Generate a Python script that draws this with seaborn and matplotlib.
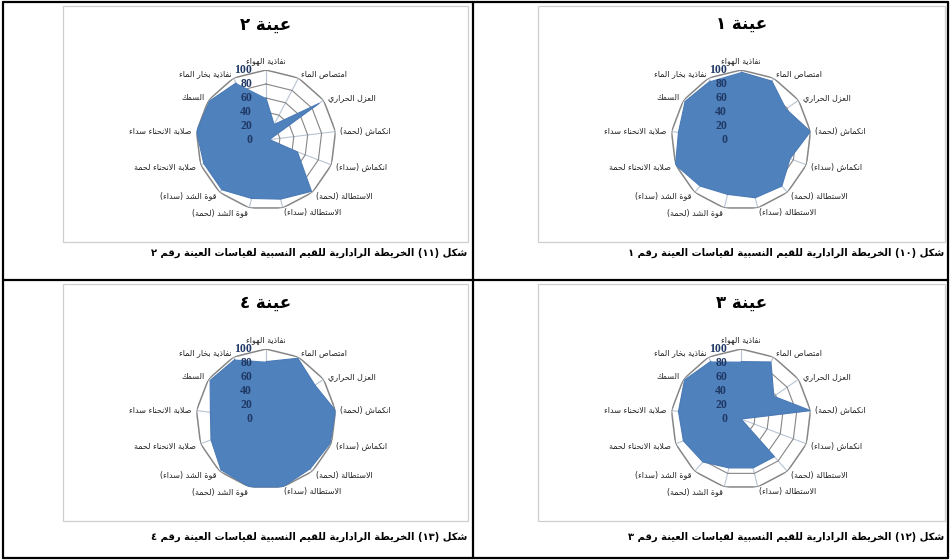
import re
import numpy as np
import matplotlib
matplotlib.use("Agg")
import matplotlib.pyplot as plt
from matplotlib.lines import Line2D
from matplotlib.patches import Rectangle
import seaborn as sns

# ---- data ----
categories = ["نفاذية الهواء", "امتصاص الماء", "العزل الحراري", "انكماش (لحمة)",
              "انكماش (سداء)", "الاستطالة (لحمة)", "الاستطالة (سداء)",
              "قوة الشد (لحمة)", "قوة الشد (سداء)", "صلابة الانحناء لحمة",
              "صلابة الانحناء سداء", "السمك", "نفاذية بخار الماء"]
sample1 = [97, 95, 78, 100, 75, 88, 85, 80, 88, 100, 90, 97, 95]
sample2 = [60, 25, 92, 5, 48, 98, 87, 86, 95, 95, 100, 98, 92]
sample3 = [82, 92, 57, 100, 0, 72, 72, 72, 82, 88, 90, 98, 93]
sample4 = [82, 98, 85, 100, 98, 95, 100, 100, 97, 84, 80, 97, 96]
titles = ["عينة ١", "عينة ٢", "عينة ٣", "عينة ٤"]
captions = ["شكل (١٠) الخريطة الرادارية للقيم النسبية لقياسات العينة رقم ١",
            "شكل (١١) الخريطة الرادارية للقيم النسبية لقياسات العينة رقم ٢",
            "شكل (١٢) الخريطة الرادارية للقيم النسبية لقياسات العينة رقم ٣",
            "شكل (١٣) الخريطة الرادارية للقيم النسبية لقياسات العينة رقم ٤"]
r_ticks = [0, 20, 40, 60, 80, 100]

# ---- minimal arabic shaping (matplotlib has no complex text layout) ----
# letter -> (first presentation form, number of forms)
AR_FORMS = {
    "ء": (0xFE80, 1), "آ": (0xFE81, 2), "أ": (0xFE83, 2), "ؤ": (0xFE85, 2),
    "إ": (0xFE87, 2), "ئ": (0xFE89, 4), "ا": (0xFE8D, 2), "ب": (0xFE8F, 4),
    "ة": (0xFE93, 2), "ت": (0xFE95, 4), "ث": (0xFE99, 4), "ج": (0xFE9D, 4),
    "ح": (0xFEA1, 4), "خ": (0xFEA5, 4), "د": (0xFEA9, 2), "ذ": (0xFEAB, 2),
    "ر": (0xFEAD, 2), "ز": (0xFEAF, 2), "س": (0xFEB1, 4), "ش": (0xFEB5, 4),
    "ص": (0xFEB9, 4), "ض": (0xFEBD, 4), "ط": (0xFEC1, 4), "ظ": (0xFEC5, 4),
    "ع": (0xFEC9, 4), "غ": (0xFECD, 4), "ف": (0xFED1, 4), "ق": (0xFED5, 4),
    "ك": (0xFED9, 4), "ل": (0xFEDD, 4), "م": (0xFEE1, 4), "ن": (0xFEE5, 4),
    "ه": (0xFEE9, 4), "و": (0xFEED, 2), "ى": (0xFEEF, 2), "ي": (0xFEF1, 4),
}


def joins_next(c):
    return c in AR_FORMS and AR_FORMS[c][1] == 4


def joins_prev(c):
    return c in AR_FORMS and AR_FORMS[c][1] >= 2


def ar(text):
    out = []
    i = 0
    n = len(text)
    while i < n:
        c = text[i]
        prev = text[i - 1] if i > 0 else ""
        before = joins_next(prev) and joins_prev(c)
        if c == "ل" and i + 1 < n and text[i + 1] == "ا":
            out.append(chr(0xFEFC if before else 0xFEFB))
            i += 2
            continue
        if c not in AR_FORMS:
            out.append(c)
            i += 1
            continue
        nxt = text[i + 1] if i + 1 < n else ""
        after = joins_next(c) and joins_prev(nxt)
        base = AR_FORMS[c][0]
        if before and after:
            out.append(chr(base + 3))
        elif before:
            out.append(chr(base + 1))
        elif after:
            out.append(chr(base + 2))
        else:
            out.append(chr(base))
        i += 1
    vis = "".join(out)[::-1]
    vis = vis.translate({ord("("): ")", ord(")"): "("})
    vis = re.sub(r"[0-9\u0660-\u0669]+", lambda m: m.group(0)[::-1], vis)
    return vis


sns.set_theme(style="white")
plt.rcParams["font.family"] = ["DejaVu Sans"]

W, H = 952, 560
fig = plt.figure(figsize=(W / 100, H / 100), dpi=100)
fig.patch.set_facecolor("white")


def fx(x):
    return x / W


def fy(y):
    return 1 - y / H


FILL = "#4F81BD"
RING = "#868686"
SPOKE = "#b8c4d4"
TICK_COL = "#1F3864"

# (center x, center y, box left, box right, box top, box bottom, caption y)
panels = [
    (741, 140, 538, 945, 6, 242, 253),
    (266, 140, 63, 468, 6, 242, 253),
    (741, 419, 538, 945, 284, 521, 537),
    (266, 419, 63, 468, 284, 521, 537),
]
samples = [sample1, sample2, sample3, sample4]

n = len(categories)
theta = np.linspace(0, 2 * np.pi, n, endpoint=False)
theta_c = np.append(theta, theta[0])
R = 70

for k, (cx, cy, bl, br, bt, bb, capy) in enumerate(panels):
    vals = samples[k]
    # chart frame
    fig.add_artist(Rectangle((fx(bl), fy(bb)), fx(br) - fx(bl), fy(bt) - fy(bb),
                             transform=fig.transFigure, fill=False,
                             ec="#cfcfcf", lw=0.9))
    fig.text(fx((bl + br) / 2), fy(bt + 19), ar(titles[k]), ha="center",
             va="center", fontsize=12, fontweight="bold", color="black")
    fig.text(fx(br - 1), fy(capy), ar(captions[k]), ha="right", va="center",
             fontsize=7.2, fontweight="bold", color="black")

    ax = fig.add_axes([fx(cx - R), fy(cy + R), 2 * R / W, 2 * R / H],
                      projection="polar")
    ax.set_theta_zero_location("N")
    ax.set_theta_direction(-1)
    ax.set_ylim(0, 100)
    ax.set_xticks([])
    ax.set_yticks([])
    ax.grid(False)
    ax.spines["polar"].set_visible(False)
    ax.patch.set_alpha(0)

    for t in theta:
        ax.plot([t, t], [0, 100], color=SPOKE, lw=0.8, zorder=1)
    for r in r_ticks[1:]:
        ax.plot(theta_c, [r] * (n + 1), color=RING,
                lw=1.1 if r == 100 else 0.8, zorder=1)

    v = np.append(vals, vals[0])
    ax.fill(theta_c, v, color=FILL, zorder=2, lw=0)
    sns.lineplot(x=theta_c, y=v, sort=False, ax=ax, color="#4a7ab5",
                 lw=0.8, zorder=3)
    ax.set_xlabel("")
    ax.set_ylabel("")

    for r in r_ticks:
        ax.annotate(str(r), xy=(0, r), xytext=(-10, 0),
                    textcoords="offset points", ha="right", va="center",
                    fontsize=8.5, fontweight="bold", color=TICK_COL,
                    family="Liberation Serif", zorder=5, annotation_clip=False)

    for t, lab in zip(theta, categories):
        s, c = np.sin(t), np.cos(t)
        if abs(s) < 0.05:
            ha = "center"
        elif s > 0:
            ha = "left"
        else:
            ha = "right"
        va = "bottom" if c > 0.95 else "center"
        ax.annotate(ar(lab), xy=(t, 100), xytext=(3.5 * s, 3.5 * c),
                    textcoords="offset points", ha=ha, va=va, fontsize=5.8,
                    color="#222222", annotation_clip=False)

# table borders
for x in (3, 473, 948):
    fig.add_artist(Line2D([fx(x), fx(x)], [fy(2), fy(558)], color="black",
                          lw=1.6, transform=fig.transFigure))
for y in (2, 280, 558):
    fig.add_artist(Line2D([fx(3), fx(948)], [fy(y), fy(y)], color="black",
                          lw=1.6, transform=fig.transFigure))

fig.savefig("out.png", dpi=100, facecolor="white")
